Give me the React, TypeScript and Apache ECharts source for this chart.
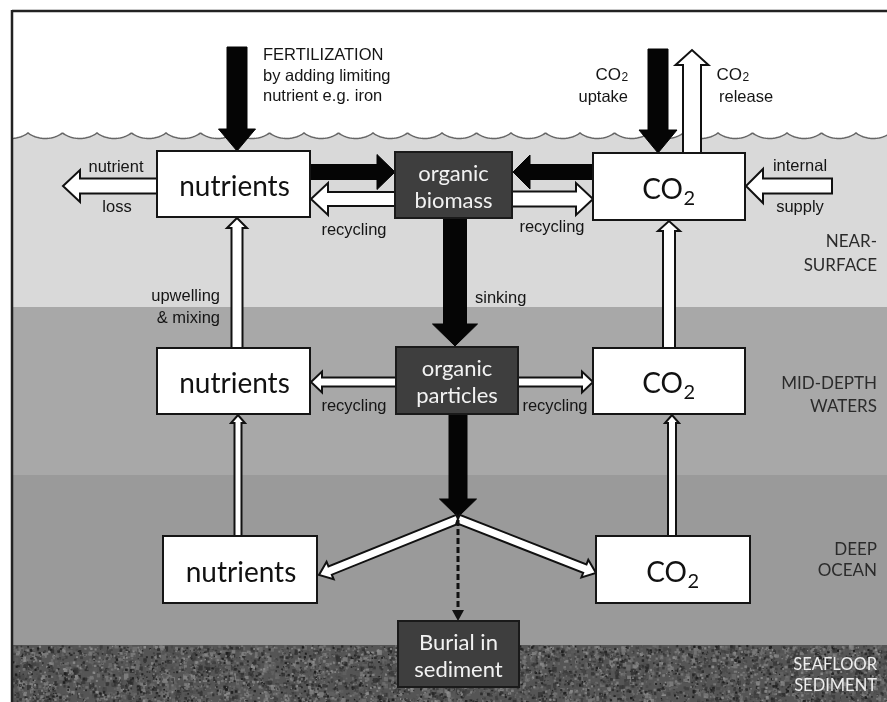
import React, { useEffect, useRef } from "react";
import * as echarts from "echarts";

const W = 887;
const H = 702;

// ---- content ----
const zoneLines: string[][] = [
  ["NEAR-", "SURFACE"],
  ["MID-DEPTH", "WATERS"],
  ["DEEP", "OCEAN"],
  ["SEAFLOOR", "SEDIMENT"],
];
const zoneLabelY: number[][] = [
  [240, 264],
  [382, 405],
  [548, 569],
  [664, 685],
];
const layerTops = [136, 307, 475, 645];
const layerColors = ["#d9d9d9", "#a8a8a8", "#9a9a9a", "#565656"];

type Box = { x: number; y: number; w: number; h: number; lines?: string[]; dark?: boolean; co2?: boolean };
const boxes: Box[] = [
  { x: 157, y: 151, w: 153, h: 66, lines: ["nutrients"] },
  { x: 395, y: 152, w: 117, h: 66, lines: ["organic", "biomass"], dark: true },
  { x: 593, y: 153, w: 152, h: 67, co2: true },
  { x: 157, y: 348, w: 153, h: 66, lines: ["nutrients"] },
  { x: 396, y: 347, w: 122, h: 67, lines: ["organic", "particles"], dark: true },
  { x: 593, y: 348, w: 152, h: 66, co2: true },
  { x: 163, y: 536, w: 154, h: 67, lines: ["nutrients"] },
  { x: 596, y: 536, w: 154, h: 67, co2: true },
  { x: 398, y: 621, w: 121, h: 66, lines: ["Burial in", "sediment"], dark: true },
];

// arrows: [x1, y1, x2, y2, shaftWidth, headWidth, headLength, black?]
const arrows: [number, number, number, number, number, number, number, boolean][] = [
  [237, 47, 237, 151, 20, 37, 22, true], // fertilization
  [658, 49, 658, 153, 20, 38, 23, true], // CO2 uptake
  [692, 153, 692, 50, 18, 33, 15, false], // CO2 release
  [310, 172, 395, 172, 15, 35, 18, true], // nutrients -> biomass
  [395, 199, 311, 199, 14, 32, 17, false], // recycling
  [593, 172, 513, 172, 15, 34, 17, true], // CO2 -> biomass
  [512, 199, 593, 199, 15, 32, 17, false], // recycling
  [157, 186, 63, 186, 15, 32, 17, false], // nutrient loss
  [832, 186, 746, 186, 15, 34, 17, false], // internal supply
  [455, 218, 455, 346, 23, 45, 22, true], // sinking
  [237, 348, 237, 218, 11, 20, 10, false], // upwelling
  [669, 348, 669, 221, 12, 22, 10, false], // CO2 mid -> top
  [396, 382, 311, 382, 9, 21, 11, false], // recycling mid left
  [518, 382, 593, 382, 9, 21, 11, false], // recycling mid right
  [458, 414, 458, 517, 18, 37, 18, true], // particles down
  [458, 519, 319, 575, 9, 19, 12, false], // to deep nutrients
  [458, 519, 596, 573, 9, 19, 12, false], // to deep CO2
  [238, 536, 238, 415, 7, 14, 8, false], // deep nutrients up
  [672, 536, 672, 415, 8, 14, 8, false], // deep CO2 up
];

// small flow labels: [text, x, y, align]
const flowLabels: [string, number, number, string][] = [
  ["FERTILIZATION", 263, 54, "left"],
  ["by adding limiting", 263, 75, "left"],
  ["nutrient e.g. iron", 263, 95, "left"],
  ["uptake", 628, 96, "right"],
  ["release", 719, 96, "left"],
  ["nutrient", 116, 166, "center"],
  ["loss", 117, 206, "center"],
  ["internal", 800, 165, "center"],
  ["supply", 800, 206, "center"],
  ["recycling", 354, 229, "center"],
  ["recycling", 552, 226, "center"],
  ["sinking", 475, 297, "left"],
  ["upwelling", 220, 295, "right"],
  ["& mixing", 220, 317, "right"],
  ["recycling", 354, 405, "center"],
  ["recycling", 555, 405, "center"],
];

const SMALL_FONT = "'Liberation Sans', Arial, sans-serif";
const BOX_FONT = "Lato, 'Open Sans', sans-serif";

function arrowPoints(x1: number, y1: number, x2: number, y2: number, sw: number, hw: number, hl: number) {
  const dx = x2 - x1;
  const dy = y2 - y1;
  const L = Math.hypot(dx, dy);
  const ux = dx / L;
  const uy = dy / L;
  const px = -uy;
  const py = ux;
  const bx = x2 - ux * hl;
  const by = y2 - uy * hl;
  return [
    [x1 + (px * sw) / 2, y1 + (py * sw) / 2],
    [bx + (px * sw) / 2, by + (py * sw) / 2],
    [bx + (px * hw) / 2, by + (py * hw) / 2],
    [x2, y2],
    [bx - (px * hw) / 2, by - (py * hw) / 2],
    [bx - (px * sw) / 2, by - (py * sw) / 2],
    [x1 - (px * sw) / 2, y1 - (py * sw) / 2],
  ];
}

function wavePoints(): number[][] {
  const period = 34.5;
  const first = 28 - period;
  const cuspY = 133;
  const troughY = 138.5;
  const half = period / 2;
  const s = troughY - cuspY;
  const r = (half * half + s * s) / (2 * s);
  const pts: number[][] = [];
  for (let x = 12; x <= W + 1; x += 1) {
    const k = Math.floor((x - first) / period);
    const mid = first + k * period + half;
    const d = x - mid;
    const y = troughY - r + Math.sqrt(Math.max(0, r * r - d * d));
    pts.push([x, y]);
  }
  return pts;
}

function sedimentTexture(w: number, h: number): string {
  const c = document.createElement("canvas");
  c.width = w;
  c.height = h;
  const ctx = c.getContext("2d");
  if (!ctx) return "";
  let seed = 12345;
  const rnd = () => {
    seed = (seed * 1103515245 + 12345) & 0x7fffffff;
    return seed / 0x7fffffff;
  };
  ctx.fillStyle = "#555555";
  ctx.fillRect(0, 0, w, h);
  for (let i = 0; i < 2500; i++) {
    const x = rnd() * w;
    const y = rnd() * h;
    const v = Math.floor(40 + rnd() * 100);
    ctx.fillStyle = `rgba(${v},${v},${v},0.8)`;
    const sz = 2 + rnd() * 3;
    ctx.fillRect(x, y, sz, sz * (0.6 + rnd() * 0.8));
  }
  for (let i = 0; i < 6000; i++) {
    const x = rnd() * w;
    const y = rnd() * h;
    const v = Math.floor(30 + rnd() * 110);
    ctx.fillStyle = `rgb(${v},${v},${v})`;
    const sz = 1 + rnd() * 1.6;
    ctx.fillRect(x, y, sz, sz);
  }
  return c.toDataURL();
}

function text(t: string, x: number, y: number, opts: any = {}) {
  const align = opts.align || "center";
  return {
    type: "text",
    z: 10,
    style: {
      text: t,
      x,
      y,
      fill: opts.fill || "#1a1a1a",
      fontSize: opts.size || 16,
      fontFamily: opts.family || SMALL_FONT,
      fontWeight: opts.weight || "normal",
      textAlign: align,
      align,
      textVerticalAlign: "middle",
      verticalAlign: "middle",
    },
  };
}

function co2Text(split: number, cy: number, big: number, small: number, family: string, fill: string, subDy: number) {
  // "CO" followed by subscript "2"
  return [
    text("CO", split, cy, { size: big, family, align: "right", fill }),
    text("2", split + 0.5, cy + subDy, { size: small, family, align: "left", fill }),
  ];
}

export default function App() {
  const ref = useRef<HTMLDivElement>(null);
  useEffect(() => {
    if (!ref.current) return;
    const chart = echarts.init(ref.current, null, { renderer: "svg", width: W, height: H });
    const els: any[] = [];

    // sky
    els.push({ type: "rect", z: 0, shape: { x: 0, y: 0, width: W, height: H }, style: { fill: "#ffffff" } });

    // layers
    const wave = wavePoints();
    for (let i = 0; i < layerTops.length; i++) {
      const top = layerTops[i];
      const bottom = i + 1 < layerTops.length ? layerTops[i + 1] : H;
      if (i === 0) {
        const poly = [...wave, [W + 1, bottom], [12, bottom]];
        els.push({ type: "polygon", z: 1, shape: { points: poly }, style: { fill: layerColors[i] } });
      } else if (i === 3) {
        const img = sedimentTexture(W - 12, bottom - top);
        els.push({ type: "rect", z: 1, shape: { x: 12, y: top, width: W - 12, height: bottom - top }, style: { fill: layerColors[i] } });
        if (img) {
          els.push({ type: "image", z: 1, style: { image: img, x: 12, y: top, width: W - 12, height: bottom - top } });
        }
      } else {
        els.push({ type: "rect", z: 1, shape: { x: 12, y: top, width: W - 12, height: bottom - top }, style: { fill: layerColors[i] } });
      }
    }
    els.push({ type: "polyline", z: 2, shape: { points: wave }, style: { stroke: "#666", lineWidth: 1.5, fill: "none" } });

    // frame
    els.push({ type: "line", z: 3, shape: { x1: 12, y1: 11, x2: W + 2, y2: 11 }, style: { stroke: "#222", lineWidth: 2.5 } });
    els.push({ type: "line", z: 3, shape: { x1: 12, y1: 10, x2: 12, y2: H + 2 }, style: { stroke: "#222", lineWidth: 2.5 } });

    // arrows
    for (const a of arrows) {
      const [x1, y1, x2, y2, sw, hw, hl, black] = a;
      els.push({
        type: "polygon",
        z: 4,
        shape: { points: arrowPoints(x1, y1, x2, y2, sw, hw, hl) },
        style: black
          ? { fill: "#050505", stroke: "#050505", lineWidth: 1, lineJoin: "miter" }
          : { fill: "#ffffff", stroke: "#111", lineWidth: 2, lineJoin: "miter" },
      });
    }
    // dashed burial line
    els.push({
      type: "line",
      z: 4,
      shape: { x1: 458, y1: 520, x2: 458, y2: 612 },
      style: { stroke: "#111", lineWidth: 3, lineDash: [6, 3] },
    });
    els.push({
      type: "polygon",
      z: 4,
      shape: { points: [[452, 610], [464, 610], [458, 621]] },
      style: { fill: "#111" },
    });

    // boxes
    for (const b of boxes) {
      els.push({
        type: "rect",
        z: 6,
        shape: { x: b.x, y: b.y, width: b.w, height: b.h },
        style: b.dark
          ? { fill: "#3e3e3e", stroke: "#1a1a1a", lineWidth: 2 }
          : { fill: "#ffffff", stroke: "#151515", lineWidth: 2 },
      });
      const cx = b.x + b.w / 2;
      const cy = b.y + b.h / 2;
      if (b.co2) {
        els.push(...co2Text(cx + 14, cy + 1, 28, 20, BOX_FONT, "#111", 9));
      } else if (b.lines) {
        if (b.lines.length === 1) {
          els.push(text(b.lines[0], cx + 1, cy + 1, { size: 28, family: BOX_FONT, fill: "#111" }));
        } else {
          els.push(text(b.lines[0], cx, cy - 13, { size: 22, family: BOX_FONT, fill: "#f2f2f2" }));
          els.push(text(b.lines[1], cx, cy + 14, { size: 22, family: BOX_FONT, fill: "#f2f2f2" }));
        }
      }
    }

    // flow labels
    for (const [t, x, y, al] of flowLabels) {
      els.push(text(t, x, y, { align: al, size: 16.5, fill: "#151515" }));
    }
    // CO2 small labels
    els.push(...co2Text(621, 74, 17, 12, SMALL_FONT, "#151515", 3));
    els.push(...co2Text(742, 74, 17, 12, SMALL_FONT, "#151515", 3));

    // zone labels
    for (let i = 0; i < zoneLines.length; i++) {
      for (let j = 0; j < 2; j++) {
        els.push(
          text(zoneLines[i][j], 877, zoneLabelY[i][j], {
            align: "right",
            size: i === 3 ? 16.5 : 17,
            family: BOX_FONT,
            fill: i === 3 ? "#eeeeee" : "#2b2b2b",
          })
        );
      }
    }

    chart.setOption({ animation: false, graphic: { elements: els } });
    return () => chart.dispose();
  }, []);
  return <div ref={ref} style={{ position: "fixed", left: 0, top: 0, width: W, height: H }} />;
}
